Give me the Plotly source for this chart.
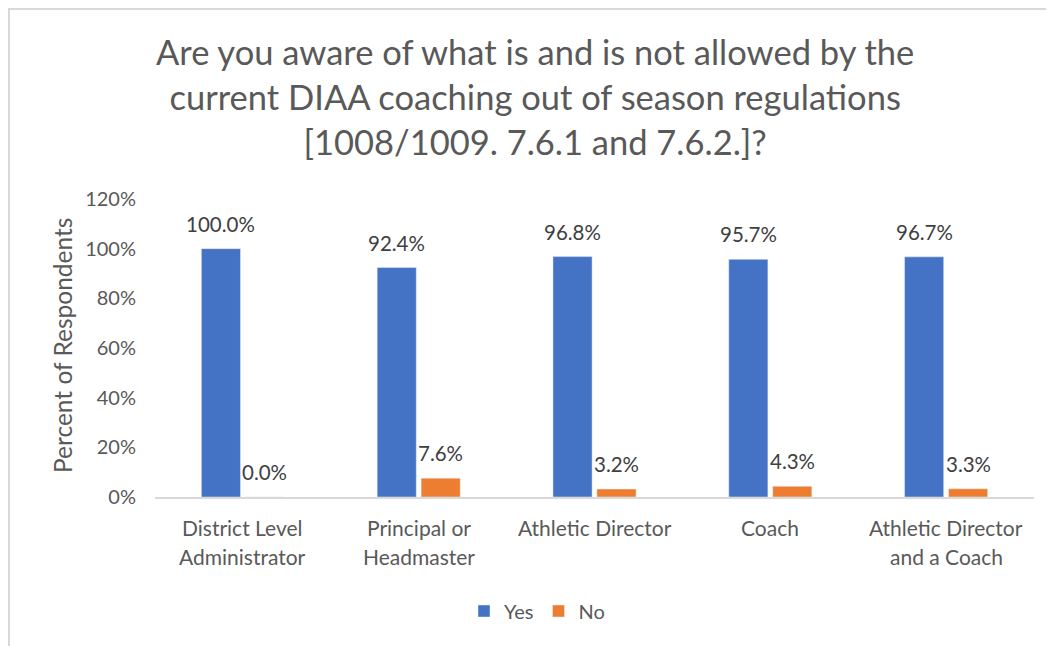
import plotly.graph_objects as go

categories = ["District Level\nAdministrator", "Principal or\nHeadmaster", "Athletic Director", "Coach", "Athletic Director\nand a Coach"]
yes_vals = [1.000, 0.924, 0.968, 0.957, 0.967]
no_vals = [0.000, 0.076, 0.032, 0.043, 0.033]
y_ticks = [0, 0.2, 0.4, 0.6, 0.8, 1.0, 1.2]
y_ticktext = ["0%", "20%", "40%", "60%", "80%", "100%", "120%"]
title_text = "Are you aware of what is and is not allowed by the<br>current DIAA coaching out of season regulations<br>[1008/1009. 7.6.1 and 7.6.2.]?"

FONT = "Lato"
GRAY = "#595959"
OFF = 8  # page body margin
W, H = 1054, 646
# plot area in page coordinates: x 155..1034, y 199..497
PX0, PX1, PY0, PY1 = 155, 1034, 199, 497
L = PX0 - OFF
T = PY0 - OFF
R = W - (PX1 - OFF)
B = H - (PY1 - OFF)
PW = PX1 - PX0
PH = PY1 - PY0

def px_x(x):
    return (x - PX0) / PW

def px_y(y):
    return (PY1 - y) / PH

fig = go.Figure()
fig.add_trace(go.Bar(name="Yes", x=categories, y=yes_vals, marker=dict(color="#4472C4")))
fig.add_trace(go.Bar(name="No", x=categories, y=no_vals, marker=dict(color="#ED7D31")))

annotations = []
# data labels
for vals, shift in ((yes_vals, -22), (no_vals, 22)):
    for c, v in zip(categories, vals):
        annotations.append(dict(x=c, y=v, xref="x", yref="y", text=f"{v*100:.1f}%",
                                showarrow=False, xshift=shift, yshift=25, yanchor="middle",
                                font=dict(family=FONT, size=20.5, color="#404040")))
# category labels
for c in categories:
    for i, line in enumerate(c.split("\n")):
        annotations.append(dict(x=c, y=px_y(527 + 29 * i), xref="x", yref="paper", text=line,
                                showarrow=False, yanchor="middle",
                                font=dict(family=FONT, size=21, color=GRAY)))
# y axis title
annotations.append(dict(x=px_x(62), y=px_y(346), xref="paper", yref="paper", text="Percent of Respondents",
                        textangle=-90, showarrow=False, xanchor="center", yanchor="middle",
                        font=dict(family=FONT, size=24.5, color=GRAY)))
# title
annotations.append(dict(x=px_x(535), y=px_y(97), xref="paper", yref="paper", text=title_text,
                        showarrow=False, xanchor="center", yanchor="middle",
                        font=dict(family=FONT, size=34.5, color=GRAY)))

fig.update_layout(
    width=W, height=H,
    margin=dict(l=L, r=R, t=T, b=B),
    paper_bgcolor="white", plot_bgcolor="white",
    barmode="group", bargap=0.5, bargroupgap=0.11,
    annotations=annotations,
    showlegend=True,
    legend=dict(orientation="h", x=px_x(537), xanchor="center", y=px_y(611), yanchor="middle",
                font=dict(family=FONT, size=20, color=GRAY), traceorder="normal"),
    shapes=[dict(type="rect", xref="paper", yref="paper",
                 x0=px_x(9), x1=px_x(W + 40), y0=px_y(H + 40), y1=px_y(9),
                 line=dict(color="#d9d9d9", width=2), fillcolor="rgba(0,0,0,0)", layer="below")],
    font=dict(family=FONT, color=GRAY),
)
fig.update_xaxes(showticklabels=False, showline=True, linecolor="#d9d9d9", linewidth=1.5,
                 showgrid=False, ticks="")
fig.update_yaxes(range=[0, 1.2], tickvals=y_ticks, ticktext=y_ticktext, showgrid=False,
                 showline=False, zeroline=False, ticks="outside", ticklen=14, tickcolor="rgba(0,0,0,0)",
                 tickfont=dict(family=FONT, size=20, color=GRAY))

fig.write_html("out.html")
